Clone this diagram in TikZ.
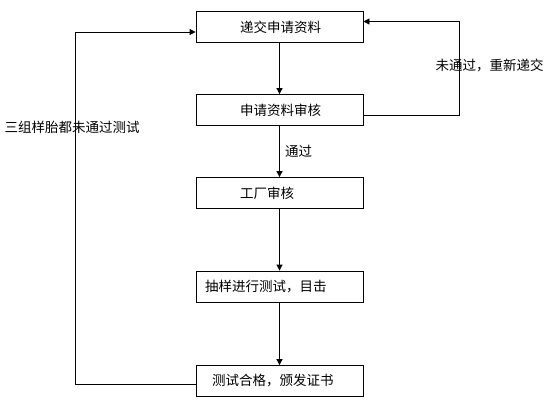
\documentclass[tikz,border=0pt]{standalone}
\usepackage{fontspec}
\setmainfont{Noto Sans CJK SC}
\usepackage{tikz}
\usetikzlibrary{arrows.meta,calc,positioning}

\tikzset{
  box/.style={draw, line width=0.8pt, minimum width=167pt, minimum height=31pt,
    inner xsep=0pt, text width=167pt, align=left},
  flow/.style={line width=0.8pt, -{Triangle[length=6pt,width=6pt]}},
}

\begin{document}
\begin{tikzpicture}[x=1pt,y=-1pt,font=\fontsize{13.5}{16}\selectfont]
          \useasboundingbox (0,0) rectangle (549,401);
          \node[box] (dijiao) at (279.5,27)  {\hspace*{44pt}递交申请资料};
          \node[box] (shenhe) at (279.5,110) {\hspace*{44pt}申请资料审核};
          \node[box] (gongchang) at (279.5,193) {\hspace*{44pt}工厂审核};
          \node[box] (ceshi) at (279.5,286.5) {\hspace*{9pt}抽样进行测试，目击};
          \node[box] (zhengshu) at (279.5,381) {\hspace*{16pt}测试合格，颁发证书};
          \coordinate (rtop) at (459,21.5);
          \coordinate (rbot) at (459,115);
          \coordinate (ltop) at (75,32);
          \coordinate (lbot) at (75,384);
          \draw[flow] (dijiao) -- (shenhe);
          \draw[flow] (shenhe) -- node[right,xshift=2pt] (tongguo) {通过} (gongchang);
          \draw[flow] (gongchang) -- (ceshi);
          \draw[flow] (ceshi) -- (zhengshu);
          \draw[flow] (shenhe.east |- rbot) -- (rbot) -- (rtop) -- (dijiao.east |- rtop);
          \draw[flow] (zhengshu.west |- lbot) -- (lbot) -- (ltop) -- (dijiao.west |- ltop);
          \node[anchor=west] (chongxin) at (432,65) {未通过，重新递交};
          \node[anchor=west] (weitongguo) at (1,127) {三组样胎都未通过测试};
\end{tikzpicture}
\end{document}
